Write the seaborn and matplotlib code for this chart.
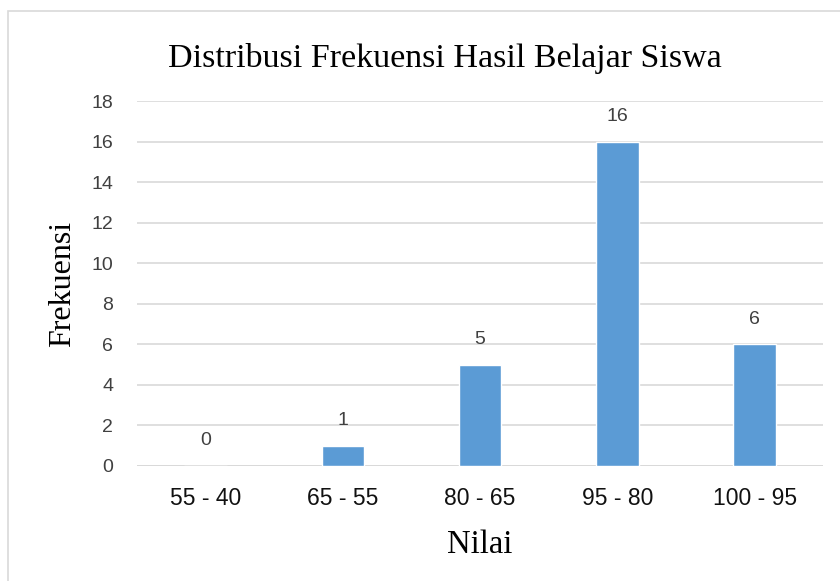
import matplotlib
matplotlib.use("Agg")
import matplotlib.pyplot as plt
import matplotlib.patches as mpatches
import pandas as pd
import seaborn as sns

categories = ["55 - 40", "65 - 55", "80 - 65", "95 - 80", "100 - 95"]
frekuensi = [0, 1, 5, 16, 6]
yticks = [0, 2, 4, 6, 8, 10, 12, 14, 16, 18]

chartTitle = "Distribusi Frekuensi Hasil Belajar Siswa"
xTitle = "Nilai"
yTitle = "Frekuensi"


def makeBarPlot(dataframe, outputName):
    sns.set_theme(style="white")
    plt.rcParams["font.family"] = ["Liberation Sans", "DejaVu Sans"]

    fig = plt.figure(figsize=(8.4, 5.81), dpi=100)
    ax = fig.add_axes([0.163, 0.198, 0.817, 0.628])

    # light frame round the whole chart
    fig.patches.append(mpatches.Rectangle(
        (0.0095, -0.01), 1.0, 0.991, transform=fig.transFigure,
        fill=False, edgecolor="#d9d9d9", linewidth=1.2))

    sns.barplot(x="nilai", y="frekuensi", data=dataframe,
                color="#5b9bd5", width=0.31, saturation=1, ax=ax)

    ax.set_ylim(0, 18)
    ax.set_xlim(-0.5, len(categories) - 0.5)
    ax.set_yticks(yticks)
    ax.yaxis.grid(True, color="#d9d9d9", linewidth=1.2)
    ax.set_axisbelow(True)
    for side in ["top", "right", "left", "bottom"]:
        ax.spines[side].set_visible(False)
    ax.axhline(0, color="#d9d9d9", linewidth=1.4, zorder=0.5)
    ax.tick_params(axis="y", length=0, labelsize=14, colors="#404040", pad=17)
    ax.tick_params(axis="x", length=0, labelsize=16.5, colors="#111111", pad=15)

    for i, v in enumerate(dataframe["frekuensi"]):
        ax.annotate(str(v), (i, v), xytext=(0, 12), textcoords="offset points",
                    ha="center", va="bottom", fontsize=14, color="#404040")

    serif = ["Liberation Serif", "DejaVu Serif"]
    ax.set_xlabel(xTitle, family=serif, fontsize=23.5, color="black", labelpad=14)
    ax.set_ylabel(yTitle, family=serif, fontsize=23, color="black", labelpad=10)
    fig.text(0.53, 0.9, chartTitle, family=serif, fontsize=24.5,
             ha="center", va="center", color="black")

    fig.savefig(outputName, dpi=100)
    plt.close(fig)


def main():
    df = pd.DataFrame({"nilai": categories, "frekuensi": frekuensi})
    makeBarPlot(df, "out.png")


if __name__ == "__main__":
    main()
